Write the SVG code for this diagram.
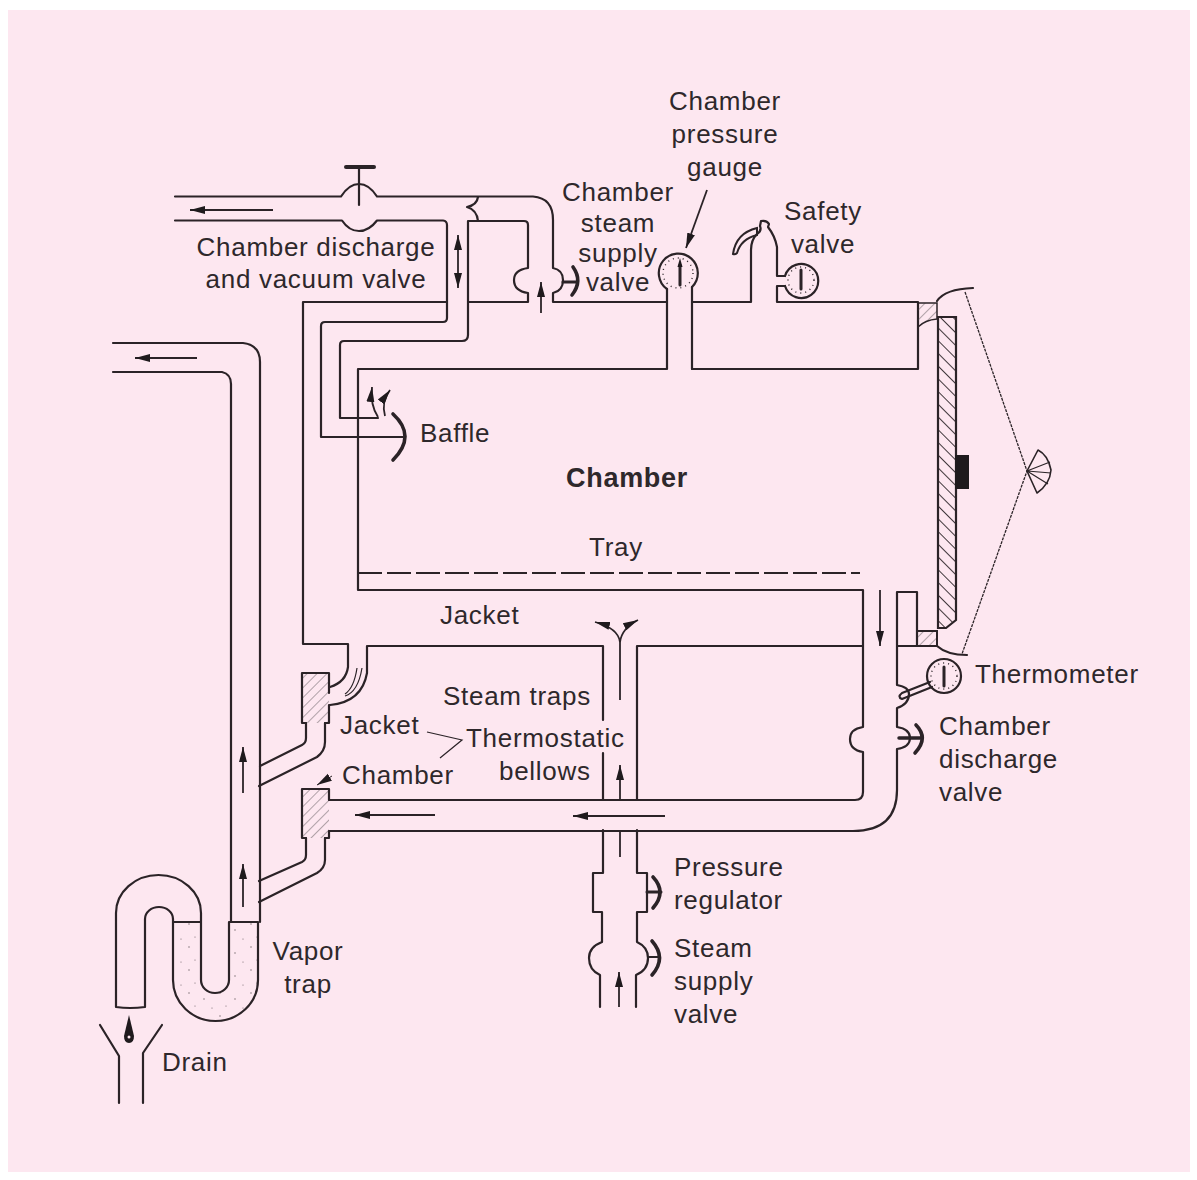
<svg xmlns="http://www.w3.org/2000/svg" width="1197" height="1180" viewBox="0 0 1197 1180">
<style>
.l{fill:none;stroke:#2b2327;stroke-width:2.200;stroke-linejoin:round;stroke-linecap:round}
.t{fill:none;stroke:#2b2327;stroke-width:1.2}
.h{fill:none;stroke:#2b2327;stroke-width:3.6;stroke-linecap:round}
.a{fill:none;stroke:#2b2327;stroke-width:1.8;marker-end:url(#ah)}
text{font-family:"Liberation Sans",Arial,sans-serif;font-size:26px;fill:#2e282b;letter-spacing:.7px}
.m{text-anchor:middle}
.k{fill:#1f1a1d}
.dots{fill:none;stroke:#2b2327;stroke-width:1.4;stroke-dasharray:1 4}
</style>
<defs>
<marker id="ah" markerUnits="userSpaceOnUse" markerWidth="17" markerHeight="10" refX="15" refY="5" orient="auto"><path d="M15 5L0 1V9Z" fill="#1f1a1d"/></marker>
<pattern id="lh" width="7" height="7" patternUnits="userSpaceOnUse" patternTransform="rotate(-45)"><line x1="0" y1="0" x2="7" y2="0" stroke="#7d7277" stroke-width="1.200"/></pattern>
<pattern id="dh" width="9" height="9" patternUnits="userSpaceOnUse" patternTransform="rotate(45)"><line x1="0" y1="0" x2="9" y2="0" stroke="#2b2327" stroke-width="1.8"/></pattern>
<pattern id="st" width="31" height="23" patternUnits="userSpaceOnUse"><circle cx="3" cy="4" r=".7" fill="#6e6468"/><circle cx="18" cy="10" r=".7" fill="#6e6468"/><circle cx="26" cy="19" r=".6" fill="#6e6468"/><circle cx="9" cy="17" r=".6" fill="#6e6468"/></pattern>
</defs>
<rect width="1197" height="1180" fill="#fff"/>
<rect x="8" y="10" width="1182" height="1162" fill="#fde7f0"/>

<g id="connectors">
<path class="l" d="M175 196.500H341Q349 184 359 184Q369 184 377 196.500H533Q553 198 553 220V268Q563 270 563 280Q563 291 553 293V302H667"/>
<path class="l" d="M478 197Q477 205 467 207Q477 210 478 221"/>
<path class="l" d="M666 369H358V590H863V727Q850 729 850 739Q850 750 863 752V792Q863 800 855 800H329"/>
<path class="l" d="M175 220.500H342Q349 231 359 231Q369 231 377 220.500H443Q447 221 447 225V318Q447 322 443 322H325Q321 322 321 326V437H403"/>
<path class="l" d="M468 221H524Q528 221 528 225V268Q514 270 514 280Q514 291 528 293V302H468V221"/>
<path class="l" d="M468 302V335Q468 341 462 341H344Q340 341 340 345V418H378"/>
<path class="l" d="M447 302H303V644H348V667Q346 682 330 687"/>
<path class="l" d="M367 646V673Q362 702 330 705"/>
<path class="t" d="M357 668Q354 688 345 694M362 668Q358 692 345 696"/>
<path class="l" d="M368 646H603V720M603 753V799"/>
<path class="l" d="M637 799V646H863"/>
<path class="l" d="M897 646V685Q909 687 909 694Q909 704 897 708V727Q910 729 910 738Q910 747 897 749V790Q897 831 853 831H329"/>
<path class="l" d="M897 646V592H917V646H897"/>
<path class="l" d="M667 369V289M692 369V287"/>
<path class="l" d="M692 369H918V302H777V286H785M777 276H785M777 276V247Q775 236 768 227L769 224Q767 220 761 221L760 226Q762 231 757 234Q751 240 751 250V302H692"/>
<path d="M757 228Q736 233 733 254Q735 255 737 253Q741 239 757 235Z" fill="none" stroke="#2b2327" stroke-width="2"/>
<path class="l" d="M113 343H243Q260 345 260 362V922M113 372H222Q231 374 231 384V922"/>
<path class="l" d="M306 723V738Q306 743 302 745L260 766M325 723V742Q325 751 317 757L259 786"/>
<path class="l" d="M306 838V855Q306 860 302 862L259 881M325 838V860Q325 868 317 873L259 902"/>
<path d="M173 922V980A42.500 41 0 0 0 258 980V922H229V980A14 13 0 0 1 201 980V922Z" fill="url(#st)"/>
<path class="l" d="M173 922H201M229 922H258M229 922V980A14 13 0 0 1 201 980V913A42.500 38 0 0 0 116 913V1007Q130 1009 145 1007V919A14 12 0 0 1 173 919V980A42.500 41 0 0 0 258 980V922"/>
<path class="l" d="M100 1025L119 1056V1103M162 1025L143 1053V1103"/>
<path class="l" d="M603 830V873H593V912H602V942Q589 947 589 958Q589 970 600 975V1007M637 830V873H647V912H637V942Q648 947 648 958Q648 970 636 975V1007"/>
</g>

<g id="arrows">
<line class="a" x1="273" y1="210" x2="190" y2="210"/>
<line class="a" x1="197" y1="358" x2="135" y2="358"/>
<line class="a" x1="458" y1="262" x2="458" y2="235"/>
<line class="a" x1="458" y1="262" x2="458" y2="288"/>
<line class="a" x1="541" y1="313" x2="541" y2="282"/>
<path class="a" d="M378 417Q370 405 372 387"/>
<path class="a" d="M385 416Q381 402 390 390"/>
<line class="a" x1="880" y1="590" x2="880" y2="646"/>
<line class="a" x1="243" y1="793" x2="243" y2="747"/>
<line class="a" x1="243" y1="907" x2="243" y2="864"/>
<line class="a" x1="435" y1="815" x2="355" y2="815"/>
<line class="a" x1="665" y1="816" x2="573" y2="816"/>
<line class="a" style="marker-end:none" x1="620" y1="857" x2="620" y2="832"/>
<line class="a" x1="620" y1="799" x2="620" y2="765"/>
<line class="a" x1="619" y1="1007" x2="619" y2="972"/>
<path class="a" style="marker-end:none" d="M620 700V640"/>
<path class="a" d="M620 642Q618 628 595 622"/>
<path class="a" d="M620 642Q622 628 638 620"/>
<line class="a" x1="707" y1="190" x2="686" y2="248"/>
<line class="a" x1="332" y1="776" x2="317" y2="785" style="stroke-width:1"/>
<path class="t" d="M427 732L462 740L440 758"/>
</g>

<g id="chamber-door">
<path d="M918 303H937V319Q925 320 918 327Z" fill="url(#lh)" stroke="#2b2327" stroke-width="1.5"/>
<path d="M917 631H937V646H917Z" fill="url(#lh)" stroke="#2b2327" stroke-width="2"/>
<path d="M938 317H956V620L946 628H938Z" fill="url(#dh)" stroke="#2b2327" stroke-width="2.200"/>
<path class="l" d="M937 301Q945 289 973 288"/>
<path class="l" d="M937 646Q947 655 967 655"/>
<rect x="955" y="455" width="14" height="34" class="k"/>
<path d="M965 292L1027 471L962 654" fill="none" stroke="#2b2327" stroke-width="1.3" stroke-dasharray="3 1"/>
<path class="l" style="stroke-width:1.600" d="M1027 471L1038 450Q1048 455 1051 470Q1050 484 1037 493Z"/>
<path class="t" d="M1027 471L1050 462M1027 471L1051 473M1027 471L1048 484"/>
</g>

<g id="discharge-vacuum-valve">
<path class="h" style="stroke-width:4" d="M346 167H374"/>
<path class="l" d="M359 167V205"/>
</g>
<g id="steam-supply-handle">
<path class="h" d="M573 267Q583 281 572 295"/>
<path class="l" style="stroke-width:3" d="M563 282H576"/>
</g>
<g id="baffle"><path class="h" d="M393 414Q417 436 393 460"/></g>

<g id="pressure-gauge">
<path class="l" d="M667 289A19.500 19.500 0 1 1 692 287"/>
<circle class="dots" cx="678" cy="273" r="15"/>
<path class="l" style="stroke-width:3" d="M680 265V285"/><path d="M680 258l-2.500 9h5z" class="k"/>
</g>
<g id="safety-gauge">
<path class="l" d="M785 276A17 17 0 1 1 785 286"/>
<circle class="dots" cx="801" cy="280" r="13"/>
<path class="l" style="stroke-width:3" d="M801 270V289"/>
</g>
<g id="thermometer">
<circle cx="944" cy="676" r="17" fill="none" stroke="#2b2327" stroke-width="2.200"/>
<circle class="dots" cx="944" cy="676" r="13"/>
<path class="l" style="stroke-width:3" d="M944 667V686"/>
<path class="l" d="M930 682L902 693Q897 697 902 699L932 687"/>
</g>
<g id="chamber-discharge-handle">
<path class="h" d="M916 725Q929 738 915 753"/>
<path class="l" style="stroke-width:3.500" d="M899 738H921"/>
</g>
<g id="steam-traps">
<rect x="302" y="673" width="27" height="50" fill="url(#lh)"/>
<path class="l" d="M329 693V673H302V723H306M325 723H329V705"/>
<rect x="302" y="789" width="27" height="49" fill="url(#lh)"/>
<path class="l" d="M329 800V789H302V838H306M325 838H329V831"/>
</g>
<g id="regulator-handle">
<path class="h" d="M653 877Q667 892 653 908"/>
<path class="l" style="stroke-width:3" d="M647 892H661"/>
</g>
<g id="supply-valve-handle">
<path class="h" d="M652 941Q667 958 652 975"/>
<path class="l" d="M648 957H660"/>
</g>
<g id="drop"><path d="M129 1015L134 1036Q134 1043 129 1043Q124 1043 124 1036Z" class="k"/><circle cx="129" cy="1037" r="1.500" fill="#fde7f0"/></g>

<g id="labels">
<text class="m" x="725" y="110">Chamber</text><text class="m" x="725" y="143">pressure</text><text class="m" x="725" y="176">gauge</text>
<text class="m" x="618" y="201">Chamber</text><text class="m" x="618" y="232">steam</text><text class="m" x="618" y="262">supply</text><text class="m" x="618" y="291">valve</text>
<text class="m" x="823" y="220">Safety</text><text class="m" x="823" y="253">valve</text>
<text class="m" x="316" y="256">Chamber discharge</text><text class="m" x="316" y="288">and vacuum valve</text>
<text x="420" y="442">Baffle</text>
<text class="m" x="627" y="487" style="font-weight:700;font-size:27px">Chamber</text>
<text class="m" x="616" y="556">Tray</text>
<text x="440" y="624">Jacket</text>
<text x="443" y="705">Steam traps</text>
<text x="340" y="734">Jacket</text>
<text x="466" y="747">Thermostatic</text>
<text x="499" y="780">bellows</text>
<text x="342" y="784">Chamber</text>
<text x="975" y="683">Thermometer</text>
<text x="939" y="735">Chamber</text><text x="939" y="768">discharge</text><text x="939" y="801">valve</text>
<text x="674" y="876">Pressure</text><text x="674" y="909">regulator</text>
<text x="674" y="957">Steam</text><text x="674" y="990">supply</text><text x="674" y="1023">valve</text>
<text class="m" x="308" y="960">Vapor</text><text class="m" x="308" y="993">trap</text>
<text x="162" y="1071">Drain</text>
</g>
<line x1="358" y1="573" x2="860" y2="573" stroke="#2b2327" stroke-width="2" stroke-dasharray="24 5"/>
</svg>
